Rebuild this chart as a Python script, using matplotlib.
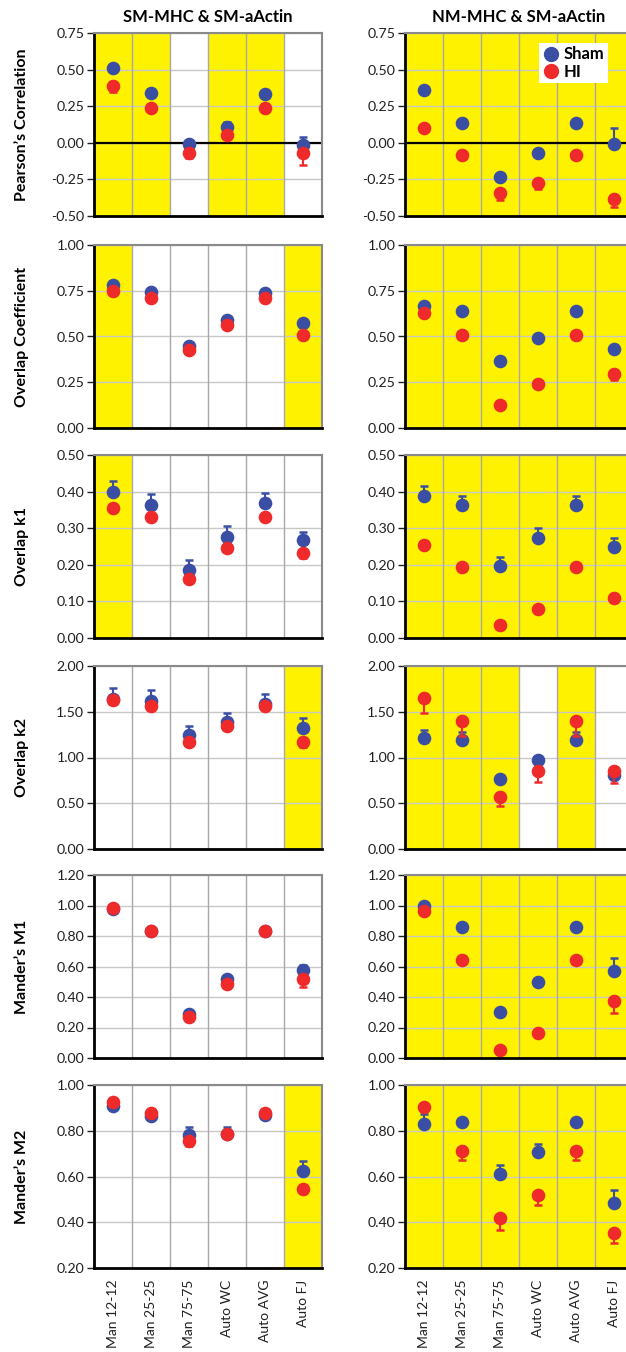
import matplotlib
matplotlib.use("Agg")
import matplotlib.pyplot as plt
from matplotlib.ticker import FormatStrFormatter
from matplotlib.lines import Line2D

plt.rcParams['font.family'] = ['Lato', 'DejaVu Sans']

categories = ["Man 12-12", "Man 25-25", "Man 75-75", "Auto WC", "Auto AVG", "Auto FJ"]
col_titles = ["SM-MHC & SM-aActin", "NM-MHC & SM-aActin"]
row_labels = ["Pearson\u2019s Correlation", "Overlap Coefficient", "Overlap k1",
              "Overlap k2", "Mander\u2019s M1", "Mander\u2019s M2"]

y_limits = [(-0.5, 0.75), (0.0, 1.0), (0.0, 0.5), (0.0, 2.0), (0.0, 1.2), (0.2, 1.0)]
y_ticks = [[-0.5, -0.25, 0.0, 0.25, 0.5, 0.75],
           [0.0, 0.25, 0.5, 0.75, 1.0],
           [0.0, 0.1, 0.2, 0.3, 0.4, 0.5],
           [0.0, 0.5, 1.0, 1.5, 2.0],
           [0.0, 0.2, 0.4, 0.6, 0.8, 1.0, 1.2],
           [0.2, 0.4, 0.6, 0.8, 1.0]]

# ---- SM-MHC & SM-aActin (left column) ----
sm_sham = [
    [0.51, 0.34, -0.01, 0.11, 0.33, -0.015],
    [0.784, 0.742, 0.449, 0.59, 0.738, 0.575],
    [0.400, 0.364, 0.187, 0.276, 0.369, 0.267],
    [1.64, 1.62, 1.246, 1.39, 1.585, 1.326],
    [0.98, 0.83, 0.29, 0.515, 0.83, 0.579],
    [0.908, 0.864, 0.782, 0.785, 0.868, 0.622],
]
sm_sham_err = [
    [0.01, 0.03, 0.01, 0.03, 0.01, 0.053],
    [0.01, 0.01, 0.01, 0.01, 0.01, 0.01],
    [0.029, 0.029, 0.025, 0.029, 0.028, 0.023],
    [0.12, 0.12, 0.10, 0.10, 0.11, 0.11],
    [0.01, 0.01, 0.02, 0.02, 0.01, 0.03],
    [0.01, 0.01, 0.033, 0.03, 0.01, 0.047],
]
sm_hi = [
    [0.39, 0.241, -0.071, 0.05, 0.239, -0.069],
    [0.751, 0.709, 0.425, 0.562, 0.709, 0.509],
    [0.356, 0.331, 0.161, 0.245, 0.331, 0.231],
    [1.628, 1.563, 1.173, 1.348, 1.563, 1.169],
    [0.981, 0.831, 0.268, 0.487, 0.831, 0.52],
    [0.927, 0.878, 0.754, 0.786, 0.878, 0.547],
]
sm_hi_err = [
    [0.04, 0.01, 0.035, 0.01, 0.01, 0.08],
    [0.01, 0.01, 0.01, 0.01, 0.01, 0.01],
    [0.005, 0.005, 0.008, 0.01, 0.005, 0.012],
    [0.04, 0.04, 0.04, 0.04, 0.04, 0.05],
    [0.01, 0.01, 0.01, 0.02, 0.01, 0.055],
    [0.01, 0.01, 0.02, 0.01, 0.01, 0.015],
]
sm_shade = [
    [1, 1, 0, 1, 1, 0],
    [1, 0, 0, 0, 0, 1],
    [1, 0, 0, 0, 0, 0],
    [0, 0, 0, 0, 0, 1],
    [0, 0, 0, 0, 0, 0],
    [0, 0, 0, 0, 0, 1],
]

# ---- NM-MHC & SM-aActin (right column) ----
nm_sham = [
    [0.362, 0.132, -0.233, -0.073, 0.132, -0.005],
    [0.668, 0.637, 0.366, 0.491, 0.637, 0.43],
    [0.389, 0.364, 0.197, 0.273, 0.364, 0.249],
    [1.217, 1.19, 0.765, 0.973, 1.19, 0.81],
    [0.996, 0.856, 0.303, 0.496, 0.856, 0.57],
    [0.83, 0.84, 0.61, 0.708, 0.84, 0.486],
]
nm_sham_err = [
    [0.005, 0.005, 0.005, 0.005, 0.005, 0.105],
    [0.005, 0.005, 0.005, 0.005, 0.005, 0.02],
    [0.026, 0.025, 0.023, 0.027, 0.025, 0.023],
    [0.08, 0.09, 0.04, 0.04, 0.09, 0.03],
    [0.005, 0.005, 0.005, 0.03, 0.005, 0.085],
    [0.044, 0.005, 0.041, 0.034, 0.005, 0.055],
]
nm_hi = [
    [0.104, -0.085, -0.345, -0.276, -0.085, -0.386],
    [0.628, 0.509, 0.128, 0.242, 0.509, 0.293],
    [0.254, 0.195, 0.035, 0.078, 0.195, 0.108],
    [1.654, 1.40, 0.572, 0.856, 1.40, 0.856],
    [0.965, 0.641, 0.055, 0.165, 0.641, 0.377],
    [0.903, 0.71, 0.42, 0.521, 0.71, 0.354],
]
nm_hi_err = [
    [0.005, 0.005, 0.048, 0.04, 0.005, 0.05],
    [0.005, 0.02, 0.005, 0.005, 0.02, 0.03],
    [0.005, 0.005, 0.005, 0.005, 0.005, 0.01],
    [0.17, 0.17, 0.10, 0.12, 0.17, 0.14],
    [0.005, 0.02, 0.005, 0.005, 0.02, 0.083],
    [0.005, 0.038, 0.054, 0.046, 0.038, 0.043],
]
nm_shade = [
    [1, 1, 1, 1, 1, 1],
    [1, 1, 1, 1, 1, 1],
    [1, 1, 1, 1, 1, 1],
    [1, 1, 1, 0, 1, 0],
    [1, 1, 1, 1, 1, 1],
    [1, 1, 1, 1, 1, 1],
]

columns = [
    (sm_sham, sm_sham_err, sm_hi, sm_hi_err, sm_shade),
    (nm_sham, nm_sham_err, nm_hi, nm_hi_err, nm_shade),
]

W, H = 626, 1352
fig = plt.figure(figsize=(W / 100, H / 100), dpi=100)

BLUE = '#3A4EA3'
RED = '#EE2A2A'
YELLOW = '#FFF200'
TXT = '#231F20'

lefts = [94, 405]
tops = [33, 245, 455, 666, 875, 1085]
ax_h = 183
ax_w = 228

x = list(range(len(categories)))

for c, (sham, sham_err, hi, hi_err, shade) in enumerate(columns):
    for r in range(6):
        ax = fig.add_axes([lefts[c] / W, 1 - (tops[r] + ax_h) / H, ax_w / W, ax_h / H])
        ax.set_xlim(-0.5, 5.5)
        ax.set_ylim(*y_limits[r])
        for i, s in enumerate(shade[r]):
            if s:
                ax.axvspan(i - 0.5, i + 0.5, color=YELLOW, lw=0, zorder=0)
        for t in y_ticks[r]:
            ax.axhline(t, color='#C8C8C8', lw=1.0, zorder=1)
        for i in range(1, 6):
            ax.axvline(i - 0.5, color='#A8A8A8', lw=1.0, zorder=1)
        if r == 0:
            ax.axhline(0, color='black', lw=1.6, zorder=2)
        zeros = [0] * len(x)
        ax.errorbar(x, sham[r], yerr=[zeros, sham_err[r]], fmt='o', color=BLUE,
                    ms=8.8, mec=BLUE, ecolor=BLUE, elinewidth=1.5, capsize=3,
                    capthick=1.8, zorder=3)
        ax.errorbar(x, hi[r], yerr=[hi_err[r], zeros], fmt='o', color=RED,
                    ms=8.8, mec=RED, ecolor=RED, elinewidth=1.5, capsize=3,
                    capthick=1.8, zorder=4)
        ax.set_yticks(y_ticks[r])
        ax.yaxis.set_major_formatter(FormatStrFormatter('%.2f'))
        ax.tick_params(axis='y', direction='out', length=5, width=1.0,
                       labelsize=10.2, colors=TXT, pad=2)
        ax.set_xticks(x)
        if r == 5:
            ax.set_xticklabels(categories, rotation=90, fontsize=10, color=TXT)
            ax.tick_params(axis='x', length=0, pad=8.5)
        else:
            ax.set_xticklabels([])
            ax.tick_params(axis='x', length=0)
        for side in ['left', 'bottom']:
            ax.spines[side].set_color('black')
            ax.spines[side].set_linewidth(2.0)
        for side in ['top', 'right']:
            ax.spines[side].set_color('#8A8A8A')
            ax.spines[side].set_linewidth(1.5)
        for sp in ax.spines.values():
            sp.set_zorder(5)
        if c == 0:
            ax.set_ylabel(row_labels[r], fontsize=11.5, fontweight='bold', color='black')
            ax.yaxis.set_label_coords(-0.285, 0.5)
        if r == 0:
            ax.set_title(col_titles[c], fontsize=12, fontweight='bold', color='black', pad=8)
        if c == 1 and r == 0:
            handles = [Line2D([], [], ls='none', marker='o', ms=10, color=BLUE),
                       Line2D([], [], ls='none', marker='o', ms=10, color=RED)]
            ax.legend(handles, ['Sham', 'HI'], loc='upper right',
                      bbox_to_anchor=(0.89, 0.945), frameon=True,
                      fancybox=False, edgecolor='none', framealpha=1,
                      handletextpad=0.3, borderpad=0.2, borderaxespad=0,
                      labelspacing=0.1, handlelength=1.0,
                      prop={'weight': 'bold', 'size': 12})

fig.savefig('out.png', dpi=100)
